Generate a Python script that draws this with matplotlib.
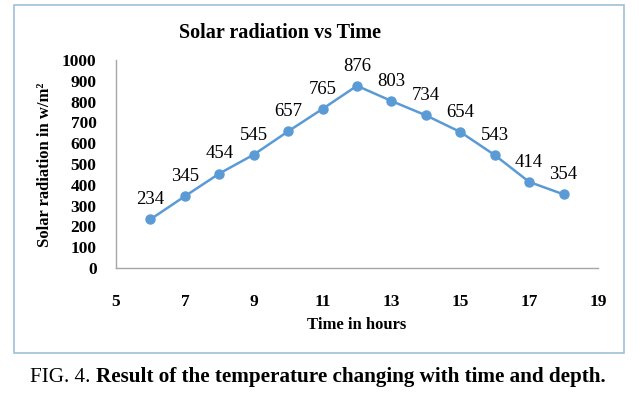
import matplotlib.pyplot as plt
from matplotlib.patches import Rectangle

# ===== データ =====
hours = [6, 7, 8, 9, 10, 11, 12, 13, 14, 15, 16, 17, 18]
radiation = [234, 345, 454, 545, 657, 765, 876, 803, 734, 654, 543, 414, 354]
x_ticks = [5, 7, 9, 11, 13, 15, 17, 19]
y_ticks = [0, 100, 200, 300, 400, 500, 600, 700, 800, 900, 1000]

plt.rcParams['font.family'] = ['Liberation Serif', 'DejaVu Serif']

W, H = 639, 395
fig = plt.figure(figsize=(W / 100, H / 100), dpi=100)

# 外枠
fig.patches.append(Rectangle((14 / W, 1 - 353 / H), (624 - 14) / W, (353 - 5) / H,
                             transform=fig.transFigure, fill=False,
                             edgecolor='#9fc0d3', linewidth=1.2))

ax = fig.add_axes([116 / W, 1 - 268 / H, (598 - 116) / W, (268 - 60) / H])
ax.plot(hours, radiation, color='#5b9bd5', linewidth=1.8,
        marker='o', markersize=6.5)

for x, y in zip(hours, radiation):
    ax.annotate(str(y), (x, y), xytext=(0, 8), textcoords='offset points',
                ha='center', va='bottom', fontsize=13.5)

ax.set_xlim(5, 19)
ax.set_ylim(0, 1000)
ax.set_xticks(x_ticks)
ax.set_yticks(y_ticks)
ax.tick_params(length=0, labelsize=12.5)
ax.tick_params(axis='x', pad=19)
ax.tick_params(axis='y', pad=14)
for lbl in ax.get_xticklabels() + ax.get_yticklabels():
    lbl.set_fontweight('bold')

for s in ['top', 'right']:
    ax.spines[s].set_visible(False)
for s in ['left', 'bottom']:
    ax.spines[s].set_color('#a6a6a6')
    ax.spines[s].set_linewidth(1)

fig.text(280 / W, 1 - 33 / H, 'Solar radiation vs Time', ha='center', va='center',
         fontsize=14.5, fontweight='bold')
fig.text(357 / W, 1 - 325 / H, 'Time in hours', ha='center', va='center',
         fontsize=12, fontweight='bold')
fig.text(45 / W, 1 - 165 / H, 'Solar radiation in w/m²', ha='center', va='center',
         rotation=90, fontsize=12, fontweight='bold')

# キャプション
t1 = fig.text(30 / W, 1 - 377 / H, 'FIG. 4. ', ha='left', va='center', fontsize=15.2)
fig.canvas.draw()
bb = t1.get_window_extent()
fig.text(bb.x1 / W, 1 - 377 / H, 'Result of the temperature changing with time and depth.',
         ha='left', va='center', fontsize=15.2, fontweight='bold')

fig.savefig('out.png', dpi=100)
